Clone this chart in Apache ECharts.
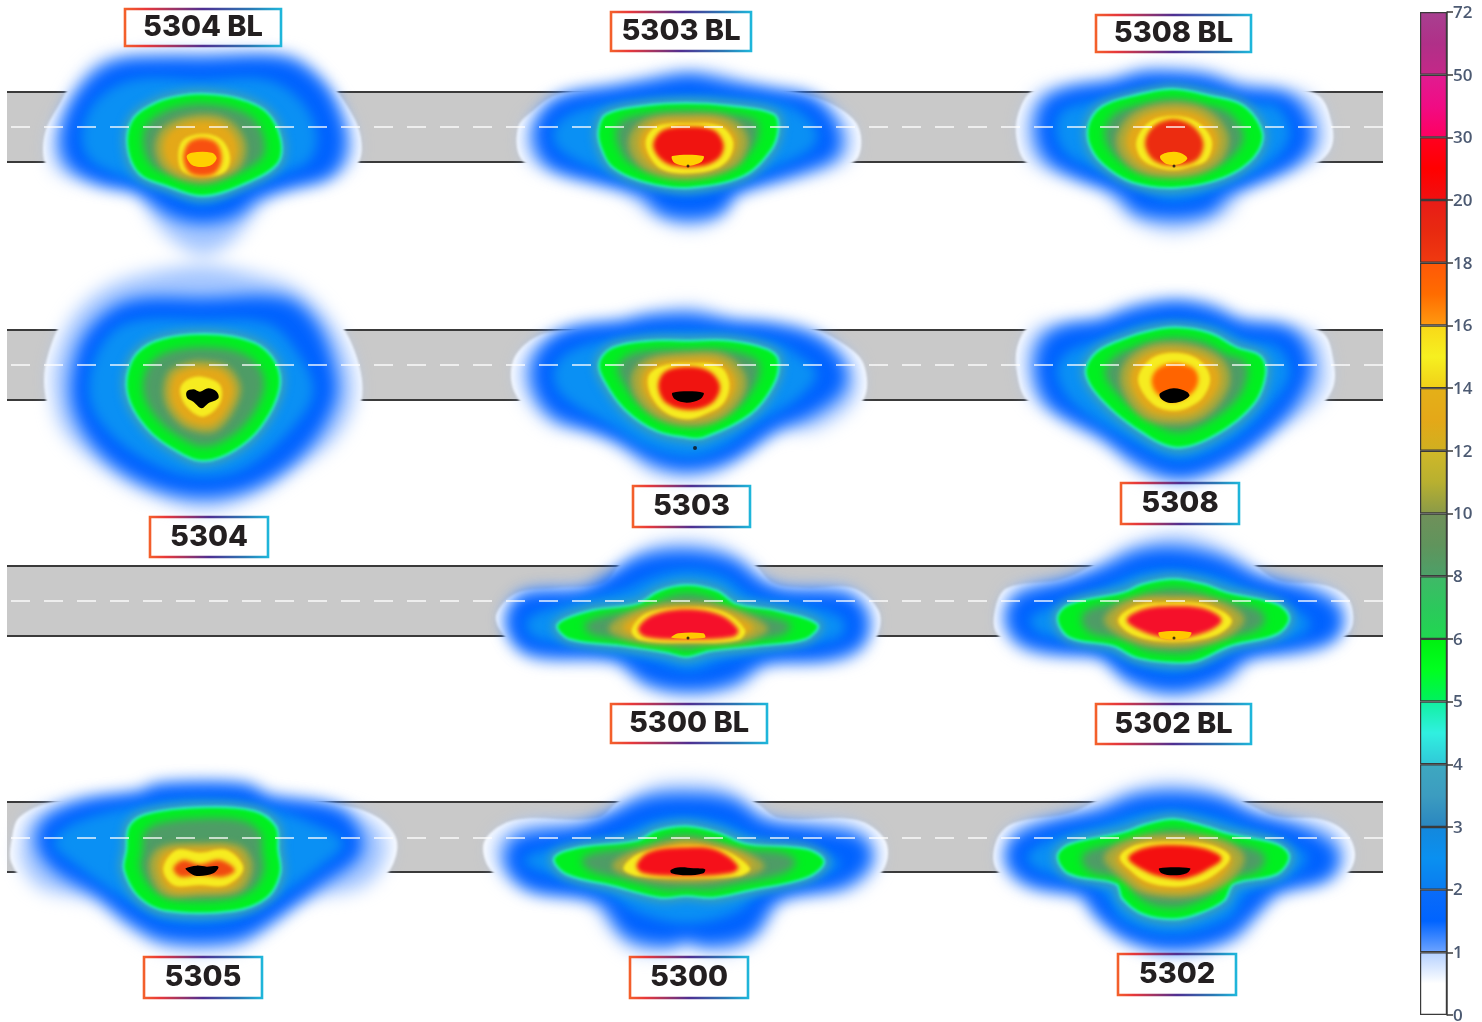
<!DOCTYPE html>
<html><head><meta charset="utf-8">
<style>html,body{margin:0;padding:0;background:#fff}#c{width:1482px;height:1022px}</style>
<script src="https://cdn.jsdelivr.net/npm/echarts@6/dist/echarts.min.js"></script>
</head><body><div id="c"></div>
<script>
// ---------- colour scale ----------
const tickLabels = ['0','1','2','3','4','5','6','8','10','12','14','16','18','20','30','50','72'];
const scaleSegments = [1,1,1,1,1,1,1,1,1,1,1,1,1,1,1,1];
const scaleColors = [
 ['#ffffff','#ffffff','#b4d0ff'],['#6ea4ff','#0064ff','#0a6cf8'],['#0a7cf0','#0a90f0','#1488dc'],['#2a86c0','#3c9cc0','#3ea8c0'],
 ['#30c8d8','#30f0e0','#12f0a0'],['#00f060','#00ff20','#00f010'],['#20d850','#2cc85c','#40b868'],['#4ca068','#60945c','#70905a'],
 ['#8a9a48','#b8b030','#d0b828'],['#d0b020','#e4a818','#e4b018'],['#f0d018','#f6f020','#f8d818'],['#ff9a10','#ff6c00','#ff5808'],
 ['#f03a10','#e82a10','#e81c18'],['#f01010','#ff0000','#ff0020'],['#ff0060','#f00c84','#e01c90'],['#c42888','#b03088','#a84090']];

// ---------- road bands (y in px rows) ----------
const bandTops = [92,330,566,802];
const bandBottoms = [162,400,636,872];
const bandCentres = [127,365,601,838];
const bandLeft = 7, bandRight = 1383;

// ---------- contour tables: x,y pairs in sensor units, relative to each footprint's origin ----------
const r5304BL = {origin:[0,0],
 pale:[610,150,750,150,890,160,960,210,1030,300,1080,400,1075,490,1000,540,850,565,770,650,700,740,610,780,520,740,450,660,400,570,290,555,175,530,135,490,135,400,180,310,240,210,300,165,450,150],
 blue:[610,195,850,195,950,260,1000,350,1015,440,980,510,870,545,760,580,700,630,610,650,520,630,420,560,300,530,220,480,205,400,250,290,340,210,470,195],
 azure:[610,240,800,240,900,300,950,400,930,480,850,520,730,565,610,610,490,570,370,530,270,480,245,400,290,300,400,240],
 green:[620,285,720,300,800,340,840,420,830,490,730,550,610,585,500,555,420,520,385,440,400,360,470,310,540,290],
 gold:[610,345,690,365,735,430,720,500,660,535,600,545,530,530,480,490,470,420,510,370],
 yellow:[610,402,665,420,690,470,675,515,610,530,550,515,535,470,550,420],
 red:[605,415,650,430,665,480,640,522,575,522,550,480,565,430],
 core:[560,470,575,458,635,458,650,475,630,497,580,497]};
const r5303BL = {origin:[490,0],
 pale:[610,205,700,215,790,250,930,280,1040,320,1105,380,1105,470,1040,510,900,540,760,565,700,660,600,695,490,660,410,590,370,555,230,530,120,500,85,460,85,380,120,340,200,285,330,265,440,240,520,215],
 blue:[600,245,700,265,850,290,960,310,1020,380,1025,450,950,490,800,540,720,570,680,620,600,635,520,620,470,570,330,530,200,490,160,440,160,370,220,310,380,280,490,262],
 azure:[600,290,720,295,900,320,980,390,970,440,880,490,720,550,600,580,480,555,300,500,200,440,195,380,270,330,450,300],
 green:[590,312,720,320,850,345,862,390,840,450,760,525,600,560,470,545,370,500,335,440,328,390,350,345,460,320],
 gold:[590,345,700,350,760,390,770,440,730,500,600,535,480,515,425,460,425,400,480,355],
 yellow:[590,370,690,378,728,420,720,470,680,505,600,520,520,510,480,470,468,420,500,380],
 red:[595,380,670,390,700,430,690,470,640,497,550,497,505,470,490,430,520,390],
 core:[547,468,640,468,635,485,600,497,570,495,550,485]};
const r5308BL = {origin:[990,0],
 pale:[550,198,660,210,760,240,900,260,990,290,1025,370,1025,440,980,490,880,520,770,560,720,650,560,710,420,670,350,590,340,555,200,530,110,490,80,420,85,340,130,270,250,245,350,235,450,205],
 blue:[550,240,650,250,750,285,880,300,930,350,945,420,900,480,800,530,700,570,650,620,550,635,450,620,400,570,280,520,190,470,160,400,175,320,240,285,370,265,460,240],
 azure:[550,265,650,275,760,310,860,320,900,400,860,470,760,530,550,600,400,540,240,470,200,410,210,340,280,310,400,290],
 green:[550,270,660,290,760,320,815,400,790,470,700,530,560,560,430,545,340,490,300,430,300,370,340,320,450,285],
 gold:[550,310,650,330,710,400,700,470,640,515,550,530,450,515,390,460,385,400,440,335],
 yellow:[550,348,620,365,665,420,650,480,600,500,550,510,490,498,450,470,440,420,480,365],
 red:[550,358,610,380,640,430,620,480,550,497,490,480,465,430,490,380],
 core:[510,470,535,457,570,458,592,475,570,492,530,492]};
const r5304 = {origin:[0,260],
 pale:[620,0,780,30,900,70,1000,160,1070,290,1085,420,1030,540,900,640,760,730,610,770,450,725,300,640,170,520,135,400,140,300,200,160,300,70,450,20],
 blue:[620,135,850,135,930,200,980,320,985,420,900,560,760,660,610,690,460,660,320,570,240,440,245,300,300,200,400,140],
 azure:[620,180,800,190,880,260,940,390,880,500,740,620,610,650,480,620,340,530,270,420,290,280,380,190],
 green:[620,225,760,250,825,310,835,390,780,500,700,570,610,600,530,570,440,500,385,400,400,300,470,245],
 gold:[610,305,680,320,720,380,700,450,650,510,600,515,540,490,495,420,505,340,560,310],
 yellow:[605,350,660,375,660,430,610,470,560,440,540,390,560,360],
 core:[560,395,580,388,600,395,625,385,650,395,655,415,625,430,605,445,580,425,562,415]};
const r5303 = {origin:[490,260],
 pale:[610,130,720,165,800,180,950,200,1050,245,1120,310,1120,420,1000,510,880,520,760,590,700,640,600,670,480,650,400,580,310,520,170,500,75,400,70,300,140,230,260,205,380,180,470,150],
 blue:[600,185,720,205,850,215,970,250,1040,320,1040,380,950,450,850,490,720,580,600,610,500,590,400,530,300,490,200,450,150,370,160,290,240,225,400,205,480,190],
 azure:[600,215,850,245,930,290,980,340,930,410,800,490,700,560,600,590,470,560,370,500,220,410,190,340,230,280,350,240],
 green:[600,245,720,245,830,270,862,300,850,370,780,460,640,530,590,530,500,510,410,450,350,370,330,310,370,265,480,245],
 gold:[590,280,700,285,760,340,760,400,700,470,610,495,510,475,440,410,430,340,480,295],
 yellow:[595,310,690,320,718,370,700,430,640,465,590,478,530,460,485,410,475,350,510,320],
 red:[595,320,660,335,690,380,665,430,600,450,530,430,505,380,525,335],
 core:[548,398,640,398,630,418,590,428,555,418]};
const r5308 = {origin:[990,260],
 pale:[560,115,670,125,760,170,900,185,1000,220,1030,300,1030,380,980,450,850,530,740,620,640,660,560,670,460,660,350,560,220,490,110,420,80,330,85,250,130,190,300,175,430,125],
 blue:[560,145,660,165,750,205,890,225,940,300,930,370,860,470,720,580,570,635,450,590,340,510,200,430,160,350,170,260,220,220,340,200,440,165],
 azure:[560,185,680,200,770,240,860,260,900,330,870,400,740,530,570,600,420,540,250,430,200,340,230,280,340,235,450,195],
 green:[560,205,660,222,740,265,810,290,825,340,790,430,680,520,560,560,450,510,340,420,290,340,320,280,400,240,480,215],
 gold:[550,250,650,270,710,320,710,390,640,470,550,490,460,470,400,390,400,320,460,265],
 yellow:[550,278,620,295,660,350,640,410,590,445,550,452,500,440,460,400,445,350,485,295],
 red:[555,310,610,325,625,360,605,400,550,425,500,400,485,360,505,325],
 core:[510,400,550,385,590,395,598,408,570,425,535,428,512,415]};
const r5300BL = {origin:[490,530],
 pale:[590,20,700,40,790,100,850,160,950,175,1090,175,1165,240,1165,310,1110,385,960,395,830,410,760,480,600,510,470,480,380,400,240,390,110,385,30,300,20,250,80,190,200,175,340,160,400,90,480,35],
 blue:[590,85,720,110,800,170,880,200,1060,210,1110,260,1100,330,1000,370,820,380,720,440,600,460,480,440,380,370,180,360,100,340,70,270,110,210,280,200,370,150,460,100],
 azure:[590,120,700,140,790,200,960,230,1060,270,1050,320,900,350,700,390,600,420,480,390,300,350,130,320,110,270,200,230,400,180,490,140],
 green:[590,168,680,185,740,225,860,245,980,285,945,325,800,345,660,360,590,378,530,365,400,345,240,325,205,285,300,245,440,225,510,185],
 gold:[590,220,700,230,800,270,830,300,750,335,600,340,450,335,360,300,390,265,480,230],
 yellow:[590,232,700,245,765,300,745,330,600,338,450,330,425,300,470,250],
 red:[590,238,690,255,745,300,730,320,600,328,465,320,445,295,490,255],
 core:[565,310,640,310,645,323,545,323]};
const r5302BL = {origin:[990,530],
 pale:[550,0,650,20,750,70,860,150,1000,165,1070,200,1090,260,1075,310,990,365,800,380,720,470,550,510,430,480,360,400,300,365,100,370,20,310,15,240,50,175,210,150,300,110,400,40],
 blue:[550,75,680,100,790,155,950,200,1030,250,1020,310,900,345,760,370,680,430,550,465,420,430,340,365,200,350,100,320,70,260,100,210,240,170,350,130,450,85],
 azure:[550,120,680,140,780,180,900,230,960,280,920,320,760,350,640,400,550,425,440,400,300,340,150,310,120,265,200,225,350,170,450,130],
 green:[550,150,640,165,710,190,860,225,895,265,860,310,720,345,620,390,550,395,440,380,370,345,240,320,205,265,240,225,400,190,460,165],
 gold:[550,200,670,210,760,265,700,325,550,350,420,330,345,270,420,210],
 yellow:[550,218,650,225,725,270,680,315,550,335,430,315,385,270,440,228],
 red:[550,228,640,235,695,270,650,305,550,325,460,305,410,270,460,238],
 core:[507,307,603,307,592,325,515,325]};
const r5305 = {origin:[0,770],
 pale:[600,30,740,50,800,70,1000,100,1130,140,1190,210,1170,300,1100,360,900,400,800,490,700,550,500,550,380,480,280,400,100,360,35,280,35,210,60,140,180,90,400,70,480,45],
 blue:[600,60,740,65,800,100,1000,130,1060,190,1060,250,950,330,800,440,700,490,500,490,400,440,300,360,180,290,130,220,150,160,260,110,430,85,470,65],
 azure:[600,90,800,115,960,170,1030,220,960,290,800,400,680,450,500,450,380,390,220,280,160,220,220,160,400,110],
 green:[600,115,760,125,825,170,832,240,838,310,800,380,700,420,500,420,420,380,375,300,382,240,390,170,440,135],
 gold:[600,222,720,230,755,290,720,360,600,375,490,370,450,290,480,235],
 yellow:[600,248,680,240,730,295,680,345,600,345,520,345,490,295,530,240],
 red:[550,270,600,283,660,270,705,300,670,320,600,315,540,320,520,295],
 core:[557,295,590,287,620,290,655,290,640,310,590,318,565,305]};
const r5300 = {origin:[480,770],
 pale:[620,25,740,40,830,100,900,145,1130,150,1215,210,1215,290,1140,360,930,385,850,500,770,555,660,550,620,530,570,555,460,555,390,500,300,385,110,360,25,290,15,210,105,150,350,145,420,90,520,35],
 blue:[620,95,750,110,840,170,1000,195,1130,220,1150,270,1080,330,880,375,800,480,680,505,620,490,560,505,450,480,370,380,160,340,100,280,120,220,300,190,400,150,500,105],
 azure:[620,140,730,160,850,210,1020,245,1080,280,1020,320,860,360,760,430,620,460,480,430,380,370,200,310,130,270,230,230,400,200,510,155],
 green:[620,172,710,190,800,225,980,240,1030,275,980,320,800,360,700,380,620,375,540,380,400,345,260,310,225,265,300,235,470,215,530,185],
 gold:[620,210,720,225,800,250,850,290,780,320,620,335,460,320,400,290,440,255,530,225],
 yellow:[620,225,730,240,810,295,780,318,620,325,470,318,430,295,480,250],
 red:[620,232,710,240,775,290,750,310,620,318,490,310,470,285,510,245],
 core:[572,300,600,292,640,295,675,298,670,310,620,316,575,310]};
const r5302 = {origin:[990,770],
 pale:[550,25,680,50,790,110,860,140,1000,150,1070,190,1095,260,1060,320,900,365,820,430,750,520,550,555,400,520,300,420,230,370,80,350,15,290,20,210,70,160,240,130,340,80,440,40],
 blue:[550,90,680,105,780,150,920,190,1020,250,1000,310,850,350,780,420,700,490,550,520,420,490,330,420,290,360,140,330,75,280,85,220,200,170,340,140,440,100],
 azure:[550,120,670,140,760,170,880,215,950,260,900,320,770,370,720,440,550,490,400,450,330,360,150,300,110,260,180,210,350,160,450,130],
 green:[550,150,640,170,720,195,860,225,895,260,860,310,730,340,700,390,620,430,550,445,460,430,400,385,380,340,240,310,205,260,240,225,400,190,470,165],
 gold:[550,195,690,210,760,260,720,330,640,370,550,380,450,365,390,320,345,260,420,210],
 yellow:[550,215,660,225,720,260,680,310,620,340,550,350,470,335,420,300,390,260,440,225],
 red:[550,225,640,235,695,265,650,300,590,325,540,325,470,305,415,265,460,235],
 core:[508,295,600,295,590,310,550,316,515,310]};

const footprints = [r5304BL,r5303BL,r5308BL,r5304,r5303,r5308,r5300BL,r5302BL,r5305,r5300,r5302];
const peakTones = ['#f85010','#f01410','#ec2c10','#000','#f01410','#ff6400','#f5102a','#f5102a','#f04a10','#f5101a','#f41010'];
const coreTones = ['#ffd000','#ffd000','#ffd000','#000','#000','#000','#ffc800','#ffc800','#000','#000','#000'];

// small black sensor marks, in px
const markX = [688,1174,695,688,1174];
const markY = [166,166,448,638,638];
const markSizes = [3,3,4,3,3];

// ---------- captions ----------
const captions = ['5304 BL','5303 BL','5308 BL','5304','5303','5308','5300 BL','5302 BL','5305','5300','5302'];
const captionBoxX0 = [125,611,1096,150,633,1121,611,1096,144,630,1118];
const captionBoxX1 = [281,751,1251,268,750,1239,767,1251,262,748,1236];
const captionBoxY0 = [9,12,15,517,486,483,704,704,957,957,954];
const captionBoxY1 = [46,51,52,557,527,524,743,744,998,998,995];

// ---------- drawing ----------
const U = 3; // sensor units per image pixel
const chart = echarts.init(document.getElementById('c'), null, {renderer:'canvas'});

const layers = [
 {key:'pale',  z:1,  fill:'#ffffff', blur:0.8},
 {key:'pale',  z:2,  fill:'#a4c6ff', scale:0.95, blur:9},
 {key:'blue',  z:3,  fill:'#0062ff', lw:14, blur:8},
 {key:'azure', z:4,  fill:'#0a90f4', blur:6},
 {key:'green', z:5,  fill:'#3aa0b8', lw:12, blur:4},
 {key:'green', z:6,  fill:'#2cecd4', lw:4,  blur:1.5},
 {key:'green', z:7,  fill:'#00f020', blur:1.5},
 {key:'green', z:8,  fill:'#4e9c66', scale:0.8, blur:4},
 {key:'gold',  z:9,  fill:'#a8a83c', lw:2,  blur:3},
 {key:'gold',  z:10, fill:'#e4a818', scale:0.84, blur:3},
 {key:'yellow',z:11, fill:'#f6ec20', blur:1.5},
 {key:'red',   z:12, tones:peakTones, blur:2},
 {key:'core',  z:13, tones:coreTones, blur:0.5}
];

function ringSeries(layer){
  return {
    type:'custom', coordinateSystem:'cartesian2d', xAxisIndex:0, yAxisIndex:0,
    zlevel:layer.z, silent:true, clip:false, animation:false,
    data: footprints.map((f,i)=>[i]).filter(d=>footprints[d[0]][layer.key]),
    renderItem(params, api){
      const idx = api.value(0), f = footprints[idx], flat = f[layer.key], pts = [];
      for(let k=0;k<flat.length;k+=2){
        pts.push(api.coord([f.origin[0]*U+flat[k], f.origin[1]*U+flat[k+1]]));
      }
      if(layer.scale){
        const cx = pts.reduce((s,p)=>s+p[0],0)/pts.length, cy = pts.reduce((s,p)=>s+p[1],0)/pts.length;
        pts.forEach(p=>{ p[0]=cx+(p[0]-cx)*layer.scale; p[1]=cy+(p[1]-cy)*layer.scale; });
      }
      const col = layer.tones ? layer.tones[idx] : layer.fill;
      return {type:'polygon', shape:{points:pts, smooth:0.35},
        style:{fill:col, stroke:layer.lw?col:null, lineWidth:layer.lw||0, lineJoin:'round'}};
    }
  };
}

const bandSeries = {
  type:'custom', xAxisIndex:0, yAxisIndex:0, zlevel:0, silent:true, clip:false,
  data:bandTops.map((t,i)=>[t,bandBottoms[i]]),
  renderItem(p, api){
    const a = api.coord([bandLeft*U, api.value(0)*U]), b = api.coord([bandRight*U, api.value(1)*U]);
    return {type:'group', children:[
      {type:'rect', shape:{x:a[0],y:a[1],width:b[0]-a[0],height:b[1]-a[1]}, style:{fill:'#c9c9c9'}},
      {type:'line', shape:{x1:a[0],y1:a[1],x2:b[0],y2:a[1]}, style:{stroke:'#3a3a3a',lineWidth:2}},
      {type:'line', shape:{x1:a[0],y1:b[1],x2:b[0],y2:b[1]}, style:{stroke:'#3a3a3a',lineWidth:2}}
    ]};
  }
};

const centreLines = bandCentres.map(y=>({
  type:'line', xAxisIndex:0, yAxisIndex:0, zlevel:20, silent:true, symbol:'none', animation:false,
  data:[[11*U,y*U],[bandRight*U,y*U]],
  lineStyle:{color:'#ffffff',width:1.5,type:[19,14],opacity:0.9}
}));

const marks = {
  type:'scatter', xAxisIndex:0, yAxisIndex:0, zlevel:20, silent:true, animation:false,
  symbolSize:(v,p)=>markSizes[p.dataIndex],
  data:markX.map((x,i)=>[x*U,markY[i]*U]), itemStyle:{color:'#101010'}
};

const captionSeries = {
  type:'custom', xAxisIndex:0, yAxisIndex:0, zlevel:21, silent:true, clip:false, animation:false,
  data:captions.map((c,i)=>[i]),
  renderItem(p, api){
    const i = api.value(0);
    const a = api.coord([captionBoxX0[i]*U, captionBoxY0[i]*U]), b = api.coord([captionBoxX1[i]*U, captionBoxY1[i]*U]);
    return {type:'group', children:[
      {type:'rect', shape:{x:a[0],y:a[1],width:b[0]-a[0],height:b[1]-a[1]},
       style:{fill:'rgba(255,255,255,0)', lineWidth:2.6,
        stroke:new echarts.graphic.LinearGradient(0,0,1,0,[
          {offset:0,color:'#f4622a'},{offset:0.14,color:'#e8383a'},{offset:0.5,color:'#4f2f92'},
          {offset:0.8,color:'#2a78b4'},{offset:1,color:'#1eb8dc'}])}},
      {type:'text', style:{text:captions[i], x:(a[0]+b[0])/2, y:(a[1]+b[1])/2, fill:'#231f20',
        font:'800 29px Inter, "Open Sans", sans-serif', align:'center', verticalAlign:'middle'}}
    ]};
  }
};

const scaleSeries = scaleSegments.map((v,i)=>({
  type:'bar', xAxisIndex:1, yAxisIndex:1, stack:'scale', barWidth:'100%', zlevel:0, silent:true, animation:false,
  data:[v],
  itemStyle:{borderColor:'#3a3a3a', borderWidth:1.2,
    color:new echarts.graphic.LinearGradient(0,1,0,0,[
      {offset:0,color:scaleColors[i][0]},{offset:0.5,color:scaleColors[i][1]},{offset:1,color:scaleColors[i][2]}])}
}));

chart.setOption({
  animation:false, backgroundColor:'#ffffff', tooltip:{show:false},
  grid:[{left:0,top:0,width:1482,height:1022,show:false,outerBoundsMode:'none'},
        {left:1420,top:12,width:27,height:1003,show:false,outerBoundsMode:'none'}],
  xAxis:[{type:'value',min:0,max:1482*U,show:false,gridIndex:0},
         {type:'category',data:[''],show:false,gridIndex:1}],
  yAxis:[{type:'value',min:0,max:1022*U,inverse:true,show:false,gridIndex:0},
         {type:'value',min:0,max:16,interval:1,gridIndex:1,position:'right',
          axisLine:{show:true,lineStyle:{color:'#3a3a3a',width:1.5}},
          axisTick:{show:true,length:6,lineStyle:{color:'#3a3a3a',width:1.5}},
          splitLine:{show:false},
          axisLabel:{margin:6,color:'#4c5a72',fontSize:17,fontWeight:600,fontFamily:'"Open Sans", sans-serif',
            formatter:v=>'{s|'+tickLabels[v]+'}',
            rich:{s:{color:'#4c5a72',fontSize:17,fontWeight:600,fontFamily:'"Open Sans", sans-serif',padding:[2,0,0,0]}}}}],
  series:[bandSeries, ...scaleSeries, ...layers.map(ringSeries), ...centreLines, marks, captionSeries]
});

const painter = chart.getZr().painter;
layers.forEach(l=>{ painter.getLayer(l.z).dom.style.filter = 'blur('+l.blur+'px)'; });
</script></body></html>
